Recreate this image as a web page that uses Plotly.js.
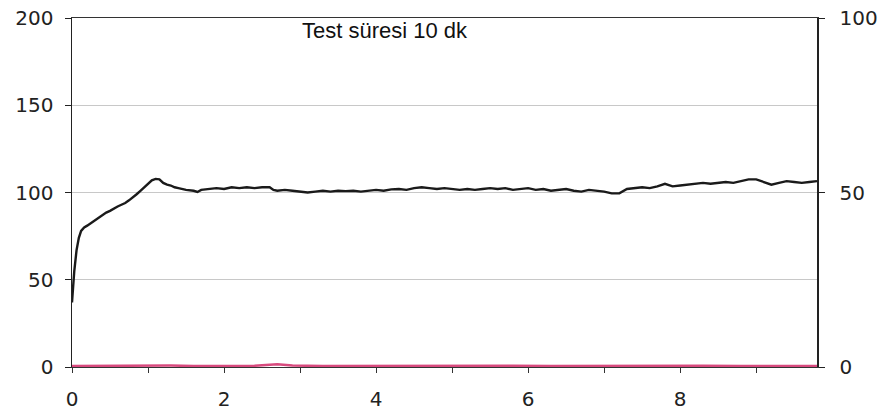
<!DOCTYPE html>
<html>
<head>
<meta charset="utf-8">
<script src="https://cdn.plot.ly/plotly-3.0.1.min.js"></script>
<style>html,body{margin:0;padding:0;background:#fff;}#chart{width:885px;height:414px;}</style>
</head>
<body>
<div id="chart"></div>
<script>
const titleText = "Test süresi 10 dk";

const timeMain = [0.00,0.03,0.06,0.09,0.12,0.16,0.20,0.25,0.30,0.35,0.40,0.45,0.50,0.55,0.60,0.65,0.70,0.75,0.80,0.85,0.90,0.95,1.00,1.05,1.10,1.15,1.20,1.25,1.30,1.35,1.40,1.50,1.60,1.65,1.70,1.80,1.90,2.00,2.10,2.20,2.30,2.40,2.50,2.60,2.65,2.70,2.80,2.90,3.00,3.10,3.20,3.30,3.40,3.50,3.60,3.70,3.80,3.90,4.00,4.10,4.20,4.30,4.40,4.50,4.60,4.70,4.80,4.90,5.00,5.10,5.20,5.30,5.40,5.50,5.60,5.70,5.80,5.90,6.00,6.10,6.20,6.30,6.40,6.50,6.60,6.70,6.80,6.90,7.00,7.10,7.20,7.30,7.40,7.50,7.60,7.70,7.80,7.90,8.00,8.10,8.20,8.30,8.40,8.50,8.60,8.70,8.80,8.90,9.00,9.10,9.20,9.30,9.40,9.50,9.60,9.70,9.80];
const valueMain = [37,55,67,74,78,80,81,82.5,84,86,87,88.5,89.5,91,92,93,94,95.5,97,99,101,103,105,107,107.8,107.5,105.5,104.5,104,103,102.5,101.5,101,100.3,101.5,102,102.5,102,103,102.5,103,102.5,103,103,101.5,101,101.5,101,100.5,100,100.5,101,100.5,101,100.8,101,100.5,101,101.5,101,101.8,102,101.5,102.5,103,102.5,102,102.5,102,101.5,102,101.5,102,102.5,102,102.5,101.5,102,102.5,101.5,102,101,101.5,102,101,100.5,101.5,101,100.5,99.5,99.5,102,102.5,103,102.5,103.5,105,103.5,104,104.5,105,105.5,105,105.5,106,105.5,106.5,107.5,107.5,106,104.5,105.5,106.5,106,105.5,106,106.5];

const timeLow = [0.0,0.5,1.0,1.3,1.6,2.0,2.4,2.7,2.9,3.3,3.8,4.3,4.8,5.3,5.8,6.3,6.8,7.3,7.8,8.3,8.8,9.3,9.8];
const valueLow = [0.6,0.7,1.1,0.8,0.6,0.8,0.7,1.6,0.8,0.6,0.7,0.6,0.7,0.6,0.7,0.6,0.7,0.6,0.6,0.7,0.6,0.7,0.6];

const leftTicks = [0,50,100,150,200];
const rightTicks = [0,50,100];
const xTicks = [0,2,4,6,8];

const tickFam = "DejaVu Sans, sans-serif";

const traces = [
  {x: timeLow, y: valueLow, type: 'scatter', mode: 'lines', line: {color: '#d84a7e', width: 2.5}, hoverinfo: 'skip', cliponaxis: false},
  {x: timeMain, y: valueMain, type: 'scatter', mode: 'lines', line: {color: '#1a1a1a', width: 2.4}, hoverinfo: 'skip'},
  {x: [0, 9.8], y: [null, null], yaxis: 'y2', type: 'scatter', mode: 'lines', hoverinfo: 'skip'}
];

const layout = {
  width: 885, height: 414,
  margin: {l: 72, r: 68, t: 18, b: 47},
  paper_bgcolor: '#fff', plot_bgcolor: '#fff',
  showlegend: false,
  font: {family: tickFam, color: '#222', size: 20},
  xaxis: {
    range: [0, 9.8], tickvals: xTicks, ticktext: xTicks.map(String),
    showgrid: false, zeroline: false, layer: 'below traces',
    showline: true, linecolor: '#333', linewidth: 1, mirror: true,
    ticks: 'outside', ticklen: 5, tickcolor: '#333',
    minor: {dtick: 1, tick0: 0, ticks: 'outside', ticklen: 5, tickcolor: '#333', showgrid: false},
    ticklabelstandoff: 9,
    tickfont: {size: 20, family: tickFam, color: '#222'}
  },
  yaxis: {
    range: [0, 200], tickvals: leftTicks, ticktext: leftTicks.map(String),
    showgrid: true, gridcolor: '#c8c8c8', gridwidth: 1,
    zeroline: false, showline: true, linecolor: '#222', linewidth: 1.5,
    ticks: 'outside', ticklen: 6, tickcolor: '#222',
    ticklabelstandoff: 7,
    tickfont: {size: 20, family: tickFam, color: '#222'}
  },
  yaxis2: {
    range: [0, 100], tickvals: rightTicks, ticktext: rightTicks.map(String),
    overlaying: 'y', side: 'right', anchor: 'x',
    showgrid: false, zeroline: false, showline: true, linecolor: '#222', linewidth: 1.5,
    ticks: 'outside', ticklen: 6, tickcolor: '#222',
    ticklabelstandoff: 11,
    tickfont: {size: 20, family: tickFam, color: '#222'}
  },
  annotations: [{
    text: titleText, xref: 'paper', yref: 'paper', x: 0.42, y: 1.005,
    xanchor: 'center', yanchor: 'top', showarrow: false,
    font: {size: 22, family: "Liberation Sans, Arial, sans-serif", color: '#111'}
  }]
};

Plotly.newPlot('chart', traces, layout, {staticPlot: true, displayModeBar: false});
</script>
</body>
</html>
